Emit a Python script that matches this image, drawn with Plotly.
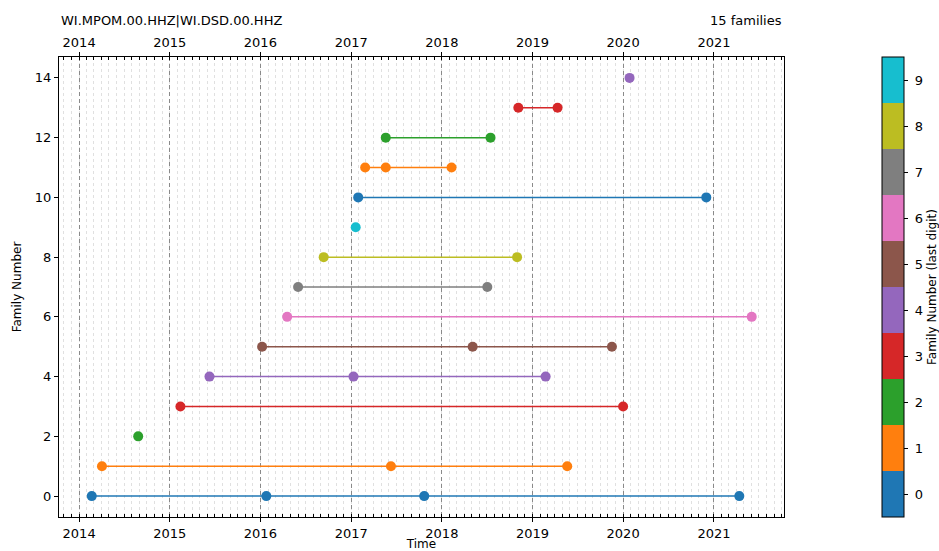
import plotly.graph_objects as go

title_left = "WI.MPOM.00.HHZ|WI.DSD.00.HHZ"
title_right = "15 families"
colorbar_title = "Family Number (last digit)"

family_numbers = list(range(15))
family_dates = [
    ["2014-02-21", "2016-01-25", "2017-10-22", "2021-04-13"],
    ["2014-04-03", "2017-06-10", "2019-05-21"],
    ["2014-08-27"],
    ["2015-02-13", "2020-01-01"],
    ["2015-06-10", "2017-01-10", "2019-02-23"],
    ["2016-01-08", "2018-05-05", "2019-11-17"],
    ["2016-04-18", "2021-06-02"],
    ["2016-06-01", "2018-07-03"],
    ["2016-09-12", "2018-10-31"],
    ["2017-01-19"],
    ["2017-01-29", "2020-12-01"],
    ["2017-02-26", "2017-05-20", "2018-02-09"],
    ["2017-05-20", "2018-07-16"],
    ["2018-11-05", "2019-04-12"],
    ["2020-01-27"],
]

tab10 = ["#1f77b4", "#ff7f0e", "#2ca02c", "#d62728", "#9467bd",
         "#8c564b", "#e377c2", "#7f7f7f", "#bcbd22", "#17becf"]
colorbar_ticks = list(range(10))

x_range = ["2013-10-12", "2021-10-10"]
y_range = [-0.7, 14.7]

FONT = "DejaVu Sans, Arial, sans-serif"
FS = 13

L, R, T, B = 59, 155, 57, 34
PW = 939 - L - R

fig = go.Figure()

for fam, dates in zip(family_numbers, family_dates):
    c = tab10[fam % 10]
    fig.add_trace(go.Scatter(
        x=dates, y=[fam] * len(dates),
        mode="lines+markers",
        line=dict(color=c, width=1.5),
        marker=dict(color=c, size=10),
        showlegend=False, hoverinfo="x+y",
    ))

# colorbar trace
scale = []
for i, c in enumerate(tab10):
    scale.append([i / 10, c])
    scale.append([(i + 1) / 10, c])
fig.add_trace(go.Scatter(
    x=[None], y=[None], mode="markers",
    marker=dict(color=[0], colorscale=scale, cmin=-0.5, cmax=9.5, showscale=True,
                colorbar=dict(
                    x=(882 - L) / PW, xanchor="left", xref="paper",
                    y=0.5, yanchor="middle", len=1.0, lenmode="fraction",
                    thickness=22, outlinewidth=1, outlinecolor="black",
                    xpad=0, ypad=0,
                    tickvals=colorbar_ticks, ticktext=[" " + str(t) for t in colorbar_ticks],
                    ticks="outside", ticklen=4, tickcolor="black",
                    tickfont=dict(family=FONT, size=FS, color="black"),
                )),
    showlegend=False, hoverinfo="skip",
))

# invisible trace on top axis
fig.add_trace(go.Scatter(x=x_range, y=[None, None], xaxis="x2", mode="markers",
                         showlegend=False, hoverinfo="skip"))

common_x = dict(
    type="date", range=x_range,
    tick0="2014-01-01", dtick="M12", tickformat="%Y",
    ticks="outside", ticklen=4, tickcolor="black",
    tickfont=dict(family=FONT, size=FS, color="black"),
    showline=True, linecolor="black", linewidth=1, mirror=False,
    zeroline=False,
)

fig.update_layout(
    width=939, height=551,
    margin=dict(l=L, r=R, t=T, b=B, autoexpand=False),
    paper_bgcolor="white", plot_bgcolor="white",
    font=dict(family=FONT, size=FS, color="black"),
    xaxis=dict(
        **common_x,
        showgrid=True, gridcolor="#8a8a8a", griddash="4px,3px", gridwidth=1,
        minor=dict(dtick="M1", tick0="2014-01-01", showgrid=True, gridcolor="#e0e0e0",
                   griddash="dot", gridwidth=1, ticks="inside", ticklen=3, tickcolor="black"),
        title=dict(text="Time", standoff=2, font=dict(family=FONT, size=FS - 1, color="black")),
    ),
    xaxis2=dict(
        **common_x,
        overlaying="x", side="top", matches="x", anchor="y",
        showgrid=False,
        minor=dict(dtick="M1", tick0="2014-01-01", showgrid=False,
                   ticks="inside", ticklen=3, tickcolor="black"),
    ),
    yaxis=dict(
        range=y_range, tickvals=list(range(0, 15, 2)),
        ticks="outside", ticklen=4, tickcolor="black",
        tickfont=dict(family=FONT, size=FS, color="black"),
        showline=True, linecolor="black", linewidth=1, mirror=True,
        showgrid=False, zeroline=False,
        title=dict(text="Family Number", standoff=10, font=dict(family=FONT, size=FS - 1, color="black")),
    ),
    annotations=[
        dict(text=title_left, x=0, y=1.08, xref="paper", yref="paper",
             xanchor="left", yanchor="middle", showarrow=False,
             font=dict(family=FONT, size=FS, color="black")),
        dict(text=title_right, x=1, y=1.08, xref="paper", yref="paper",
             xanchor="right", yanchor="middle", showarrow=False,
             font=dict(family=FONT, size=FS, color="black")),
        dict(text=colorbar_title, x=(932 - L) / PW, y=0.5, xref="paper", yref="paper",
             xanchor="center", yanchor="middle", textangle=-90, showarrow=False,
             font=dict(family=FONT, size=FS - 1, color="black")),
    ],
)

fig.write_html("out.html",
               config={"displayModeBar": False},
               post_script="document.body.style.margin='0px';document.body.style.overflow='hidden';")
